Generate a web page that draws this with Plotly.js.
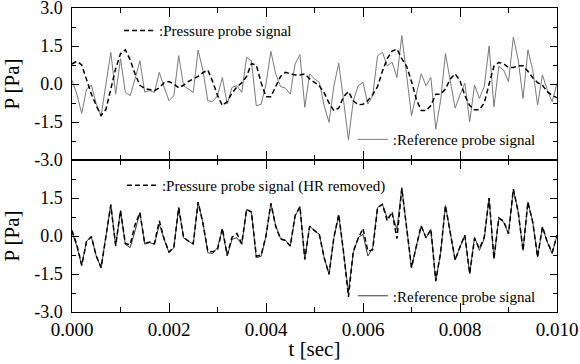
<!DOCTYPE html>
<html>
<head>
<meta charset="utf-8">
<script src="https://cdn.plot.ly/plotly-3.0.1.min.js"></script>
<style>html,body{margin:0;padding:0;background:#fff}#chart{width:580px;height:364px}</style>
</head>
<body>
<div id="chart"></div>
<script>
// sampling: first sample time and interval (s)
const T0 = 0;
const DT = 0.0001;

// Reference probe signal (same in both panels) [Pa]
const referenceSignal = [
  0.15, -0.40, -1.16, -0.20, -0.04, -0.79, -1.25, 0.00, 1.25, -0.40,
  1.00, -0.33, -0.46, 0.20, 0.92, -0.32, -0.26, -0.33, 0.46, -0.13,
  -0.66, -0.46, 1.12, -0.07, -0.20, -0.33, 1.34, 0.53, -0.66, -0.69,
  -0.46, 0.26, -0.79, -0.13, -0.07, -0.33, 1.05, 0.92, -0.86, -0.80,
  0.00, 1.29, 0.40, -0.10, -0.16, -0.40, 0.79, 1.16, -0.92, 0.40,
  0.20, 0.07, -0.86, -1.51, -0.07, 0.82, -0.66, -2.20, -0.66, -0.07,
  0.07, -0.79, -0.46, 1.12, 1.25, 0.72, 0.86, 0.26, 1.91, 0.40,
  -1.25, -0.40, 0.40, -0.07, 0.26, -1.78, -0.66, 1.20, 0.13, -0.95,
  -0.43, 0.03, -1.49, -0.04, -0.57, -0.10, 1.50, -0.90, 0.69, 0.55,
  0.09, 1.85, 0.95, -0.57, 1.34, 0.55, -0.83, 0.36, -0.24, -0.70,
  0.03
];

// Pressure probe signal (raw) [Pa]
const pressureSignal = [
  0.79, 0.90, 0.75, 0.13, -0.40, -0.85, -1.25, -1.00, -0.25, 0.60,
  1.20, 1.35, 0.95, 0.40, -0.05, -0.18, -0.22, -0.26, -0.15, 0.05,
  0.10, 0.00, -0.15, -0.05, 0.10, 0.20, 0.30, 0.45, 0.55, 0.10,
  -0.45, -0.85, -0.70, -0.35, -0.12, 0.05, 0.30, 0.80, 0.75, 0.05,
  -0.50, -0.50, -0.10, 0.30, 0.46, 0.42, 0.36, 0.36, 0.40, 0.20,
  0.05, -0.07, -0.35, -0.75, -1.05, -0.95, -0.50, -0.30, -0.66, -0.82,
  -0.80, -0.65, -0.42, -0.10, 0.50, 1.00, 1.30, 1.38, 1.00, 0.70,
  0.10, -0.60, -1.05, -1.05, -0.85, -0.40, -0.40, -0.20, 0.20, 0.40,
  0.13, -0.46, -0.85, -1.02, -1.02, -0.75, 0.00, 0.70, 0.85, 0.80,
  0.65, 0.65, 0.72, 0.72, 0.50, 0.25, 0.05, -0.05, -0.30, -0.45,
  -0.55
];

// Pressure probe signal with HR removed [Pa]
const pressureHRRemoved = [
  0.22, -0.35, -1.16, -0.22, -0.02, -0.79, -1.25, 0.00, 1.22, -0.38,
  1.00, -0.30, -0.35, 0.45, 0.92, -0.30, -0.24, -0.30, 0.60, -0.12,
  -0.63, -0.45, 1.12, -0.05, -0.20, -0.30, 1.34, 0.50, -0.60, -0.62,
  -0.55, 0.30, -0.75, -0.05, 0.10, -0.30, 1.05, 0.95, -0.80, -0.75,
  0.00, 1.29, 0.38, -0.12, -0.18, -0.40, 0.80, 1.16, -0.92, 0.38,
  0.22, 0.05, -0.86, -1.51, -0.05, 0.85, -0.66, -2.40, -0.60, -0.10,
  0.30, -0.60, -0.55, 1.12, 1.25, 0.60, 0.95, -0.10, 1.88, 0.40,
  -1.25, -0.40, 0.40, -0.07, 0.26, -1.78, -0.66, 1.20, 0.13, -0.95,
  -0.43, 0.03, -1.49, -0.10, -0.50, -0.05, 1.50, -0.90, 0.72, 0.58,
  0.09, 1.85, 0.95, -0.57, 1.34, 0.55, -0.83, 0.36, -0.24, -0.65,
  0.03
];

const yTickVals = [-3, -1.5, 0, 1.5, 3];
const yTickText = ['-3.0 ', '-1.5 ', '0.0 ', '1.5 ', '3.0 '];
const yTickValsLower = [-3, -1.5, 0, 1.5];
const yTickTextLower = ['-3.0 ', '-1.5 ', '0.0 ', '1.5 '];
const yMinorVals = [-2.25, -0.75, 0.75, 2.25];

const SERIF = "Liberation Serif";

const traces = [
  {x0: T0, dx: DT, y: referenceSignal, xaxis: 'x2', yaxis: 'y', mode: 'lines',
   name: ':Reference probe signal', legend: 'legend2',
   line: {color: '#7a7a7a', width: 1}},
  {x0: T0, dx: DT, y: pressureSignal, xaxis: 'x2', yaxis: 'y', mode: 'lines',
   name: ':Pressure probe signal', legend: 'legend',
   line: {color: '#000', width: 1.5, dash: '5px,3px'}},
  {x0: T0, dx: DT, y: referenceSignal, xaxis: 'x', yaxis: 'y2', mode: 'lines',
   name: ':Reference probe signal', legend: 'legend4',
   line: {color: '#3a3a3a', width: 1}},
  {x0: T0, dx: DT, y: pressureHRRemoved, xaxis: 'x', yaxis: 'y2', mode: 'lines',
   name: ':Pressure probe signal (HR removed)', legend: 'legend3',
   line: {color: '#000', width: 1.5, dash: '5px,3px'}}
];

function yAxis(domain, vals, text, anchor) {
  return {
    domain: domain, range: [-3, 3], anchor: anchor,
    tickmode: 'array', tickvals: vals, ticktext: text,
    ticks: 'inside', ticklen: 7, tickwidth: 1, tickcolor: '#000',
    minor: {tickmode: 'array', tickvals: yMinorVals, ticks: 'inside', ticklen: 4, tickcolor: '#000'},
    showline: true, linecolor: '#000', linewidth: 1.2, mirror: 'ticks',
    showgrid: false, zeroline: false,
    tickfont: {family: SERIF, size: 18, color: '#000'},
    ticklabeloverflow: 'allow',
    title: {text: 'P [Pa]', font: {family: SERIF, size: 21, color: '#000'}, standoff: 8}
  };
}

function xAxis(anchor, labels) {
  return {
    range: [0, 0.01], anchor: anchor,
    tickmode: 'linear', tick0: 0, dtick: 0.002, tickformat: '.3f',
    ticks: 'inside', ticklen: 9, tickwidth: 1, tickcolor: '#000',
    minor: {dtick: 0.001, ticks: 'inside', ticklen: 5, tickcolor: '#000'},
    showline: true, linecolor: '#000', linewidth: 1.2, mirror: 'ticks',
    showgrid: false, zeroline: false,
    showticklabels: labels,
    ticklabeloverflow: 'allow',
    tickfont: {family: SERIF, size: 19, color: '#000'}
  };
}

const legendBase = {
  bgcolor: 'rgba(0,0,0,0)', borderwidth: 0, xanchor: 'left', yanchor: 'middle',
  font: {family: SERIF, size: 15, color: '#000'}, itemwidth: 30, tracegroupgap: 0
};

const layout = {
  width: 580, height: 364,
  margin: {l: 72, r: 23, t: 8, b: 52},
  paper_bgcolor: '#fff', plot_bgcolor: '#fff',
  font: {family: SERIF, color: '#000'},
  showlegend: true,
  xaxis: Object.assign(xAxis('y2', true), {
    title: {text: 't [sec]', font: {family: SERIF, size: 21, color: '#000'}, standoff: 2}
  }),
  xaxis2: Object.assign(xAxis('y', false), {matches: 'x'}),
  yaxis: yAxis([0.5, 1], yTickVals, yTickText, 'x2'),
  yaxis2: yAxis([0, 0.5], yTickValsLower, yTickTextLower, 'x'),
  legend: Object.assign({}, legendBase, {x: 0.097, y: 0.925}),
  legend2: Object.assign({}, legendBase, {x: 0.579, y: 0.567}),
  legend3: Object.assign({}, legendBase, {x: 0.103, y: 0.416}),
  legend4: Object.assign({}, legendBase, {x: 0.579, y: 0.0525})
};

Plotly.newPlot('chart', traces, layout, {displayModeBar: false, staticPlot: true});
</script>
</body>
</html>
